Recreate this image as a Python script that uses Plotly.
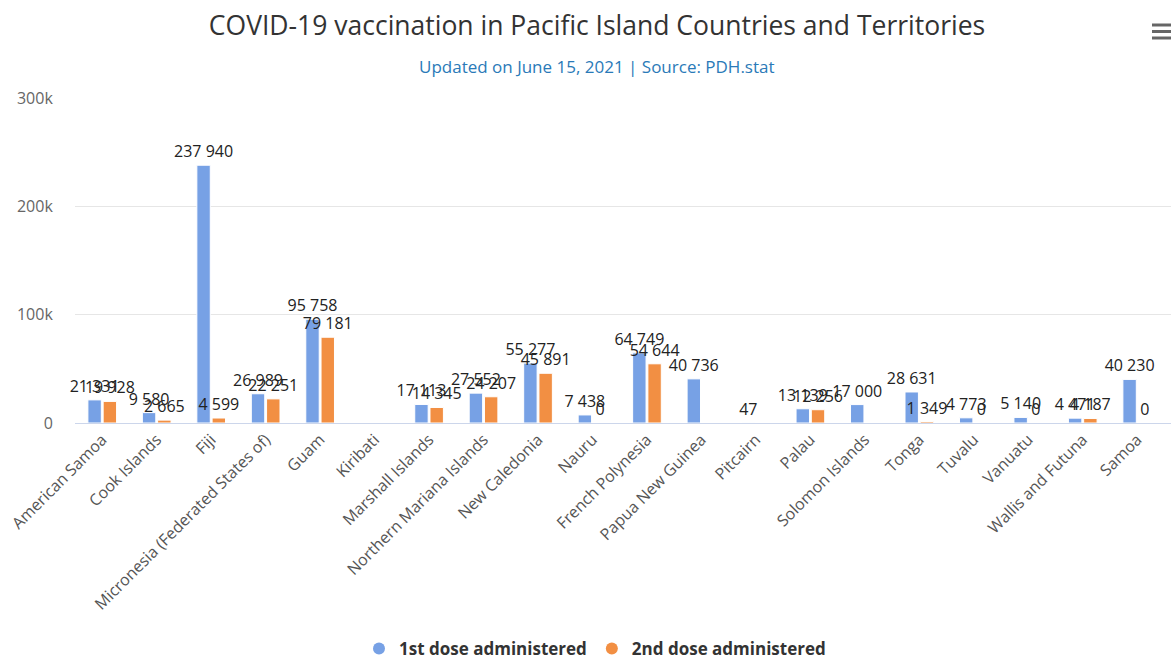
import plotly.graph_objects as go

categories = ["American Samoa", "Cook Islands", "Fiji", "Micronesia (Federated States of)", "Guam",
              "Kiribati", "Marshall Islands", "Northern Mariana Islands", "New Caledonia", "Nauru",
              "French Polynesia", "Papua New Guinea", "Pitcairn", "Palau", "Solomon Islands",
              "Tonga", "Tuvalu", "Vanuatu", "Wallis and Futuna", "Samoa"]
dose1 = [21331, 9580, 237940, 26989, 95758, None, 17113, 27552, 55277, 7438,
         64749, 40736, 47, 13139, 17000, 28631, 4773, 5140, 4471, 40230]
dose2 = [19928, 2665, 4599, 22251, 79181, None, 14345, 24207, 45891, 0,
         54644, None, None, 12256, None, 1349, 0, 0, 4187, 0]
series_names = ["1st dose administered", "2nd dose administered"]
colors = ["#77a1e5", "#f28f43"]
y_ticks = [0, 100000, 200000, 300000]
y_tick_labels = ["0", "100k", "200k", "300k"]


def fmt(v):
    return "" if v is None else f"{v:,}".replace(",", " ")


FONT = "Open Sans, DejaVu Sans, sans-serif"
fig = go.Figure()
for name, vals, col in zip(series_names, [dose1, dose2], colors):
    fig.add_trace(go.Bar(
        x=categories, y=vals, name=name, marker=dict(color=col, line=dict(color="white", width=1)),
        text=[fmt(v) for v in vals], textposition="outside", constraintext="none",
        textfont=dict(family=FONT, size=16, color="#222"), cliponaxis=False,
        showlegend=False, hoverinfo="x+y"))
    fig.add_trace(go.Scatter(
        x=[None], y=[None], mode="markers", name=name,
        marker=dict(color=col, size=14, symbol="circle")))

fig.update_layout(
    width=1171, height=660,
    paper_bgcolor="white", plot_bgcolor="white",
    margin=dict(l=75, r=0, t=98, b=237, autoexpand=False),
    barmode="group", bargap=0.44, bargroupgap=0.12,
    font=dict(family=FONT, color="#333"),
    title=dict(text="COVID-19 vaccination in Pacific Island Countries and Territories",
               x=597 / 1171, xanchor="center", y=1 - 26 / 660, yanchor="middle",
               font=dict(family=FONT, size=26.5, color="#333")),
    xaxis=dict(range=[-0.5, 19.62], tickangle=-45, showgrid=False,
               tickfont=dict(family=FONT, size=16, color="#555"),
               showline=True, linecolor="#ccd6eb", linewidth=1, ticks=""),
    yaxis=dict(range=[0, 300000], tickvals=y_ticks, ticktext=y_tick_labels,
               gridcolor="#e6e6e6", zeroline=False, showline=False,
               tickfont=dict(family=FONT, size=16, color="#666"), ticklen=18, ticks="outside", tickcolor="white"),
    legend=dict(orientation="h", x=0.5 - 28 / 1096, xanchor="center", y=(423 - 649) / 325, yanchor="middle",
                font=dict(family=FONT, size=17, color="#333", weight="bold"), itemsizing="constant"),
    annotations=[dict(text="Updated on June 15, 2021 | Source: PDH.stat", xref="paper", yref="paper",
                      x=(597 - 75) / 1096, y=(423 - 66) / 325, showarrow=False,
                      xanchor="center", yanchor="middle",
                      font=dict(family=FONT, size=17, color="#2a7ab8"))],
)
for py in [25, 31.5, 38]:
    fig.add_shape(type="line", xref="paper", yref="paper",
                  x0=(1152 - 75) / 1096, x1=(1171 - 75) / 1096,
                  y0=(423 - py) / 325, y1=(423 - py) / 325,
                  line=dict(color="#666", width=3))

fig.write_html("out.html", config={"displayModeBar": False},
               post_script="document.body.style.margin='0';")
